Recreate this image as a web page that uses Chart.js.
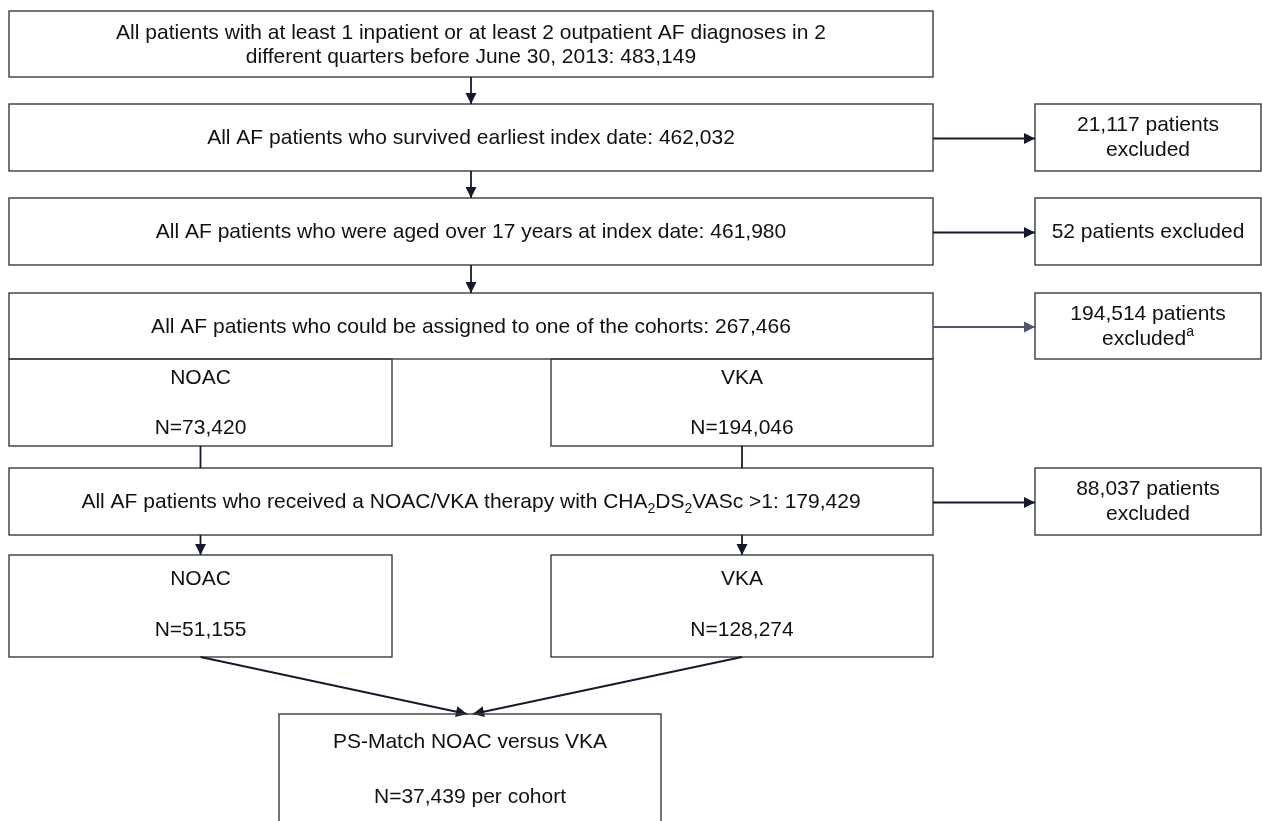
<!DOCTYPE html>
<html>
<head>
<meta charset="utf-8">
<script src="https://cdn.jsdelivr.net/npm/chart.js@4.4.1/dist/chart.umd.min.js"></script>
<style>
    html, body { margin: 0; padding: 0; background: #fff; }
    #wrap { width: 1262px; height: 821px; position: relative; }
</style>
</head>
<body>
<div id="wrap"><canvas id="flowChart"></canvas></div>
<script>
const stepTitles = [
    "All patients with at least 1 inpatient or at least 2 outpatient AF diagnoses in 2|different quarters before June 30, 2013",
    "All AF patients who survived earliest index date",
    "All AF patients who were aged over 17 years at index date",
    "All AF patients who could be assigned to one of the cohorts",
    "All AF patients who received a NOAC/VKA therapy with CHA_2DS_2VASc >1"
];
const stepCounts = [483149, 462032, 461980, 267466, 179429];
const excludedCounts = [21117, 52, 194514, 88037];
const excludedNotes = ["", "", "a", ""];
const cohortNames = ["NOAC", "VKA"];
const assignedCounts = [73420, 194046];
const eligibleCounts = [51155, 128274];
const matchTitle = "PS-Match NOAC versus VKA";
const matchedPerCohort = 37439;

// layout in chart units (x: 0..1262, y: 0..821 top-down)
const layout = {
    main: { l: 9, r: 933 },
    excl: { l: 1035, r: 1261 },
    steps: [[11, 77], [104, 171], [198, 265], [293, 359], [468, 535]],
    exclRows: [1, 2, 3, 4],
    cohortsA: { t: 359, b: 446 },
    cohortsB: { t: 555, b: 657 },
    cohortX: [[9, 392], [551, 933]],
    match: { l: 279, r: 661, t: 714, b: 840 }
};

const FONT = '"Liberation Sans", Arial, sans-serif';
const TEXT = "#111";
const BORDER = "#3b3b3b";
const LINE = "#141a2e";

function fmt(n) { return n.toLocaleString("en-US"); }

// text with _ marking a subscript char
function drawRich(ctx, str, cx, cy, size, sup) {
    const segs = [];
    for (let i = 0; i < str.length; i++) {
        if (str[i] === "_") { segs.push({ t: str[i + 1], sub: true }); i++; }
        else if (segs.length && !segs[segs.length - 1].sub) segs[segs.length - 1].t += str[i];
        else segs.push({ t: str[i], sub: false });
    }
    if (sup) segs.push({ t: sup, sup: true });
    let w = 0;
    segs.forEach(s => {
        ctx.font = ((s.sub || s.sup) ? Math.round(size * 0.68) : size) + "px " + FONT;
        s.w = ctx.measureText(s.t).width;
        w += s.w;
    });
    let x = cx - w / 2;
    ctx.textAlign = "left";
    ctx.textBaseline = "middle";
    ctx.fillStyle = TEXT;
    segs.forEach(s => {
        ctx.font = ((s.sub || s.sup) ? Math.round(size * 0.68) : size) + "px " + FONT;
        let dy = s.sub ? size * 0.3 : (s.sup ? -size * 0.32 : 0);
        ctx.fillText(s.t, x, cy + dy);
        x += s.w;
    });
}

function arrowHead(ctx, x1, y1, x2, y2) {
    const a = Math.atan2(y2 - y1, x2 - x1), len = 11, hw = 5.5;
    ctx.beginPath();
    ctx.moveTo(x2, y2);
    ctx.lineTo(x2 - len * Math.cos(a) + hw * Math.sin(a), y2 - len * Math.sin(a) - hw * Math.cos(a));
    ctx.lineTo(x2 - len * Math.cos(a) - hw * Math.sin(a), y2 - len * Math.sin(a) + hw * Math.cos(a));
    ctx.closePath();
    ctx.fill();
}

const flowPlugin = {
    id: "flow",
    afterDraw(chart) {
        const ctx = chart.ctx;
        const sx = v => chart.scales.x.getPixelForValue(v);
        const sy = v => chart.scales.y.getPixelForValue(v);
        const size = 21;

        function box(l, r, t, b) {
            ctx.strokeStyle = BORDER;
            ctx.lineWidth = 1.4;
            ctx.strokeRect(sx(l), sy(t), sx(r) - sx(l), sy(b) - sy(t));
        }
        function link(x1, y1, x2, y2, head, color) {
            ctx.strokeStyle = color || LINE;
            ctx.fillStyle = color || LINE;
            ctx.lineWidth = 1.8;
            ctx.beginPath();
            ctx.moveTo(sx(x1), sy(y1));
            ctx.lineTo(sx(x2), sy(y2));
            ctx.stroke();
            if (head) arrowHead(ctx, sx(x1), sy(y1), sx(x2), sy(y2));
        }

        ctx.save();
        const m = layout.main, e = layout.excl;
        const midX = (m.l + m.r) / 2;

        // main steps
        stepTitles.forEach((title, i) => {
            const [t, b] = layout.steps[i];
            box(m.l, m.r, t, b);
            const lines = title.split("|");
            lines[lines.length - 1] += ": " + fmt(stepCounts[i]);
            if (lines.length === 2) {
                drawRich(ctx, lines[0], sx(midX), sy(t + 22), size);
                drawRich(ctx, lines[1], sx(midX), sy(t + 46), size);
            } else {
                drawRich(ctx, lines[0], sx(midX), sy((t + b) / 2 + 1), size);
            }
        });

        // arrows between the first steps
        for (let i = 0; i < 3; i++) link(midX, layout.steps[i][1], midX, layout.steps[i + 1][0], true);

        // exclusion boxes
        excludedCounts.forEach((n, i) => {
            const [t, b] = layout.steps[layout.exclRows[i]];
            const ex = (e.l + e.r) / 2;
            box(e.l, e.r, t, b);
            const cy = (t + b) / 2;
            link(m.r, cy + 1, e.l, cy + 1, true, i === 2 ? "#4f5870" : LINE);
            const label = fmt(n) + " patients";
            if (n < 1000) {
                drawRich(ctx, label + " excluded", sx(ex), sy(cy + 1), size);
            } else {
                drawRich(ctx, label, sx(ex), sy(cy - 12), size);
                drawRich(ctx, "excluded", sx(ex), sy(cy + 13), size, excludedNotes[i]);
            }
        });

        // cohort boxes
        cohortNames.forEach((name, i) => {
            const [l, r] = layout.cohortX[i];
            const cx = (l + r) / 2;
            const A = layout.cohortsA, B = layout.cohortsB;
            box(l, r, A.t, A.b);
            drawRich(ctx, name, sx(cx), sy(A.t + 19), size);
            drawRich(ctx, "N=" + fmt(assignedCounts[i]), sx(cx), sy(A.t + 69), size);
            link(cx, A.b, cx, layout.steps[4][0], false);
            link(cx, layout.steps[4][1], cx, B.t, true);
            box(l, r, B.t, B.b);
            drawRich(ctx, name, sx(cx), sy(B.t + 24), size);
            drawRich(ctx, "N=" + fmt(eligibleCounts[i]), sx(cx), sy(B.t + 75), size);
        });

        // matched box
        const mt = layout.match;
        const mcx = (mt.l + mt.r) / 2;
        link(200.5, layout.cohortsB.b, mcx - 3, mt.t, true);
        link(742, layout.cohortsB.b, mcx + 3, mt.t, true);
        box(mt.l, mt.r, mt.t, mt.b);
        drawRich(ctx, matchTitle, sx(mcx), sy(mt.t + 28), size);
        drawRich(ctx, "N=" + fmt(matchedPerCohort) + " per cohort", sx(mcx), sy(mt.t + 83), size);

        ctx.restore();
    }
};

new Chart(document.getElementById("flowChart"), {
    type: "scatter",
    data: { datasets: [{ data: [], pointRadius: 0 }] },
    options: {
        responsive: true,
        maintainAspectRatio: false,
        animation: false,
        events: [],
        layout: { padding: 0 },
        plugins: { legend: { display: false }, tooltip: { enabled: false } },
        scales: {
            x: { display: false, min: 0, max: 1262 },
            y: { display: false, min: 0, max: 821, reverse: true }
        }
    },
    plugins: [flowPlugin]
});
</script>
</body>
</html>
